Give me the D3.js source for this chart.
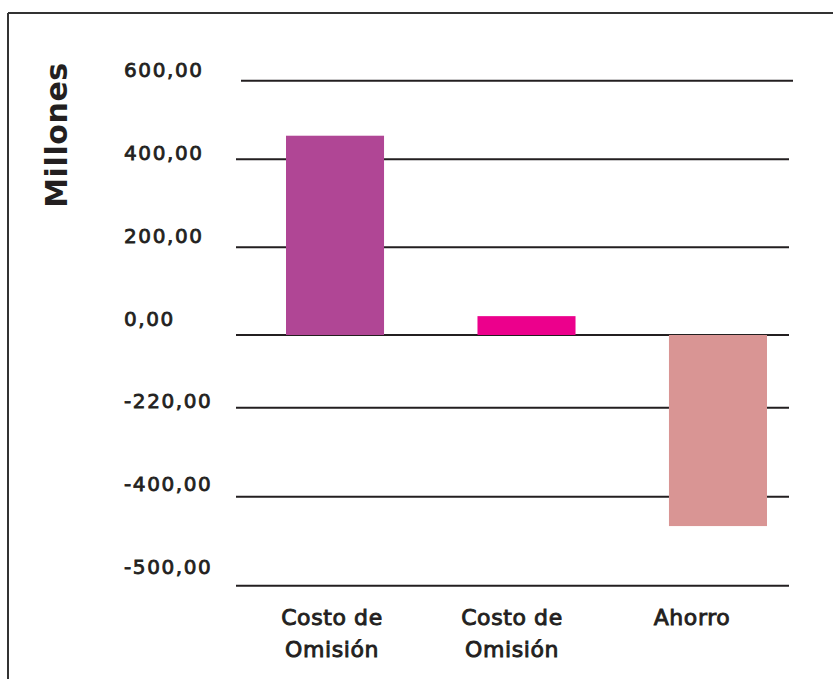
<!DOCTYPE html>
<html>
<head>
<meta charset="utf-8">
<script src="https://cdn.jsdelivr.net/npm/d3@7"></script>
<style>
  html, body { margin: 0; padding: 0; background: #ffffff; }
  svg { display: block; }
  text { font-family: "DejaVu Sans", sans-serif; fill: #231f20; }
</style>
</head>
<body>
<svg id="chart" width="833" height="679"></svg>
<script>
// Categories and values (millones)
const categories = ["Costo de Omisión (a)", "Costo de Omisión (b)", "Ahorro"];
const categoryLines = [["Costo de", "Omisión"], ["Costo de", "Omisión"], ["Ahorro"]];
const values = [460, 43, -433];
const barColors = ["#b04695", "#ec008c", "#d99594"];

// Axis ticks as printed on the chart
const tickValues = [600, 400, 200, 0, -220, -400, -500];
const tickLabels = ["600,00", "400,00", "200,00", "0,00", "-220,00", "-400,00", "-500,00"];

const svg = d3.select("#chart");
const W = 833, H = 679;

// Outer frame: top and left rules
svg.append("line").attr("x1", 8).attr("x2", W).attr("y1", 13).attr("y2", 13)
  .attr("stroke", "#333").attr("stroke-width", 2);
svg.append("line").attr("x1", 8).attr("x2", 8).attr("y1", 13).attr("y2", H)
  .attr("stroke", "#333").attr("stroke-width", 2);

// Plot area
const plotLeft = 236, plotRight = 789;

// The value axis is not uniform: each printed tick has its own rule position,
// so the scale is piecewise linear through the tick stops.
const gridStops = [80.7, 159.3, 247.3, 335, 407.7, 496.7, 585.7];
const y = d3.scaleLinear().domain(tickValues).range(gridStops);

// Tick labels sit on an evenly spaced column
const labelY = d3.scalePoint().domain(tickLabels).range([77, 574]);

const x = d3.scaleBand()
  .domain(categories)
  .range([286, 767])
  .paddingInner(0.488)
  .paddingOuter(0);

// Category captions sit on their own evenly spaced row
const labelX = d3.scalePoint().domain(categories).range([332, 692]);

// Grid rules
svg.append("g").selectAll("line")
  .data(tickValues)
  .join("line")
  .attr("x1", (d, i) => i === 0 ? plotLeft + 5 : plotLeft)
  .attr("x2", (d, i) => i === 0 ? plotRight + 4 : plotRight)
  .attr("y1", d => y(d))
  .attr("y2", d => y(d))
  .attr("stroke", "#231f20")
  .attr("stroke-width", 2);

// Tick labels
svg.append("g").selectAll("text")
  .data(tickLabels)
  .join("text")
  .attr("x", 124)
  .attr("y", d => labelY(d))
  .attr("font-size", 20)
  .attr("letter-spacing", 1.6)
  .attr("stroke", "#231f20")
  .attr("stroke-width", 0.8)
  .text(d => d);

// Bars
svg.append("g").selectAll("rect")
  .data(values)
  .join("rect")
  .attr("x", (d, i) => x(categories[i]))
  .attr("width", x.bandwidth())
  .attr("y", d => d >= 0 ? y(d) : y(0))
  .attr("height", d => Math.abs(y(d) - y(0)))
  .attr("fill", (d, i) => barColors[i]);

// Category labels
const catG = svg.append("g").selectAll("text")
  .data(categories)
  .join("text")
  .attr("text-anchor", "middle")
  .attr("font-size", 22)
  .attr("letter-spacing", 0.6)
  .attr("stroke", "#231f20")
  .attr("stroke-width", 0.9)
  .attr("y", 625);
catG.selectAll("tspan")
  .data((d, i) => categoryLines[i].map(t => ({ t, c: d })))
  .join("tspan")
  .attr("x", d => labelX(d.c))
  .attr("dy", (d, j) => j === 0 ? 0 : 32)
  .text(d => d.t);

// Y axis title
svg.append("text")
  .attr("transform", "translate(67,135) rotate(-90)")
  .attr("text-anchor", "middle")
  .attr("font-size", 30)
  .attr("font-weight", "bold")
  .attr("letter-spacing", 0.6)
  .text("Millones");
</script>
</body>
</html>
